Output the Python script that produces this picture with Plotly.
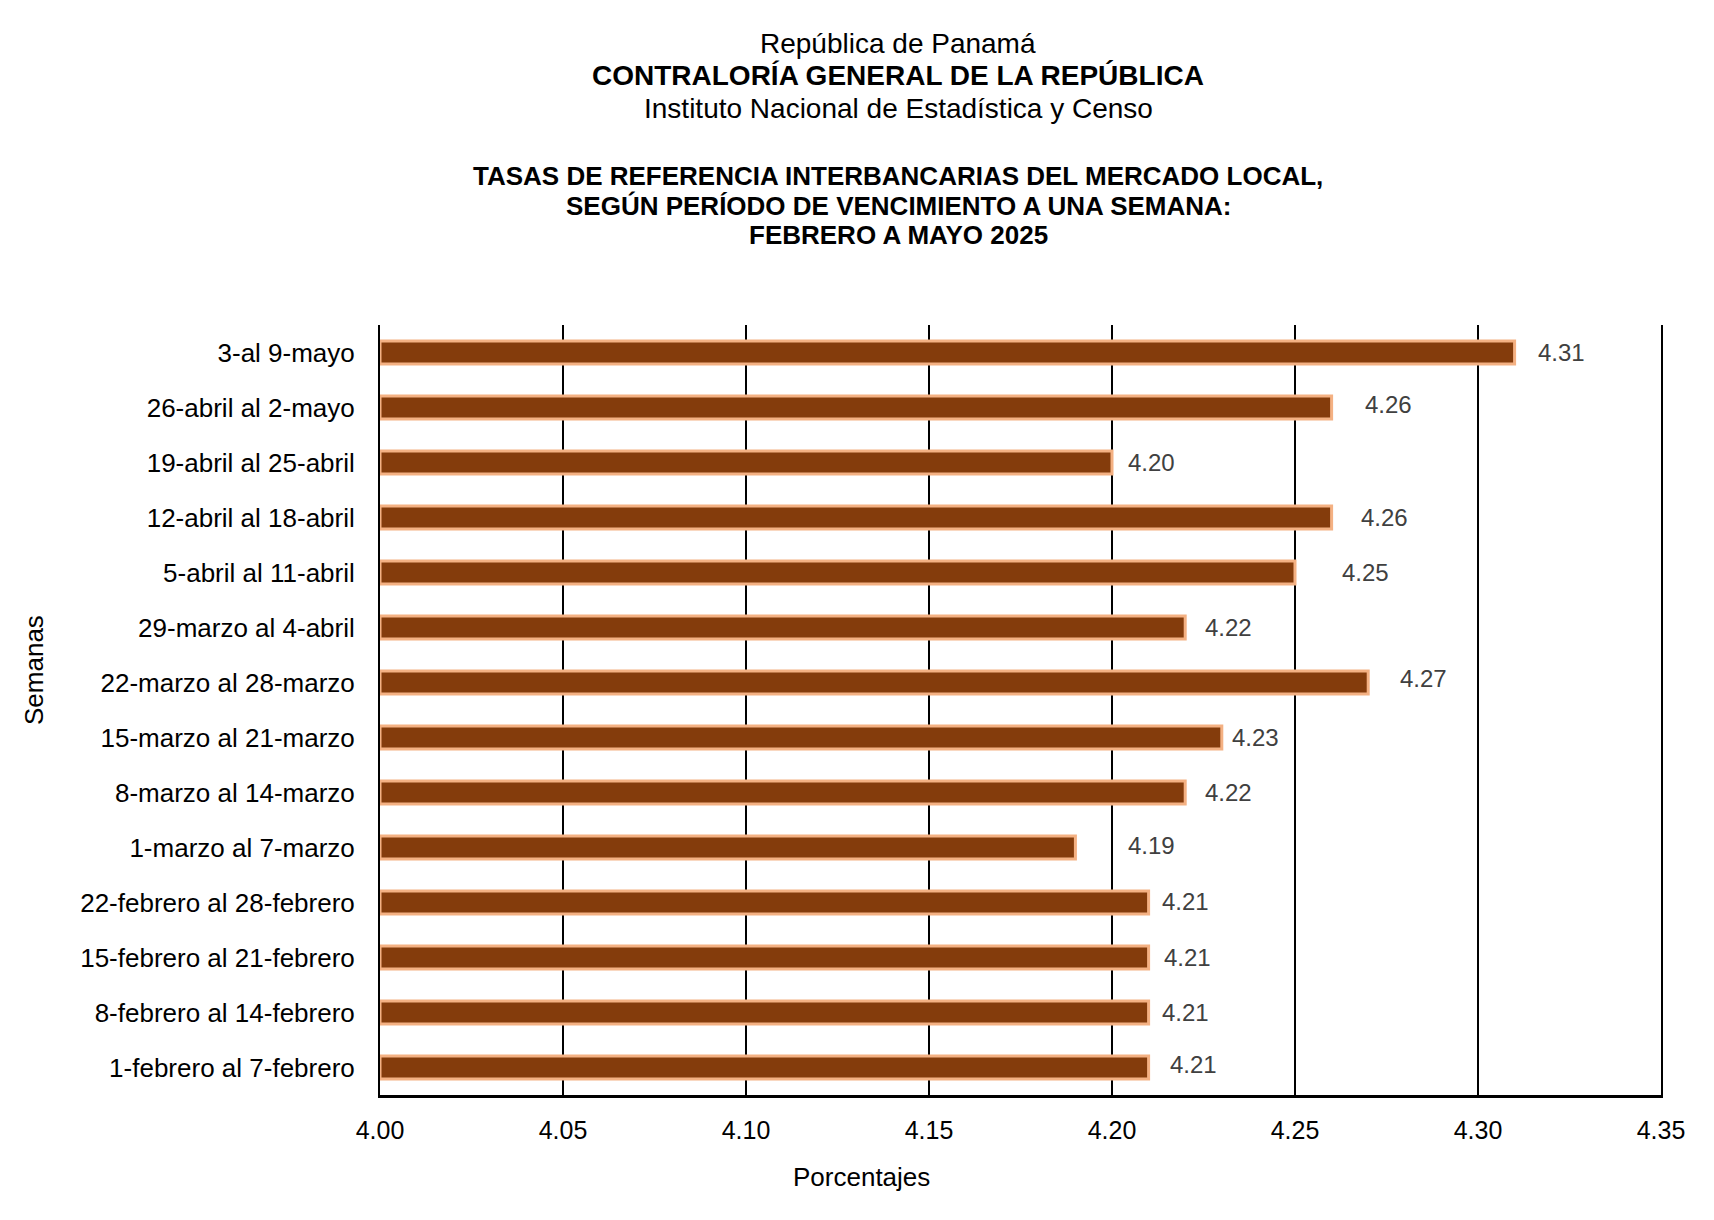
import plotly.graph_objects as go

semanas = [
    "1-febrero al 7-febrero",
    "8-febrero al 14-febrero",
    "15-febrero al 21-febrero",
    "22-febrero al 28-febrero",
    "1-marzo al 7-marzo",
    "8-marzo al 14-marzo",
    "15-marzo al 21-marzo",
    "22-marzo al 28-marzo",
    "29-marzo al 4-abril",
    "5-abril al 11-abril",
    "12-abril al 18-abril",
    "19-abril al 25-abril",
    "26-abril al 2-mayo",
    "3-al 9-mayo",
]
tasas = [4.21, 4.21, 4.21, 4.21, 4.19, 4.22, 4.23, 4.27, 4.22, 4.25, 4.26, 4.20, 4.26, 4.31]
x_ticks = [4.00, 4.05, 4.10, 4.15, 4.20, 4.25, 4.30, 4.35]

# label nudges (pixels), layout only
label_dx = [19, 11, 13, 11, 51, 18, 8, 30, 18, 45, 27, 14, 31, 21]
label_dy = [3, 0, 0, 1, 2, 0, 0, 4, 0, 0, 0, 0, 3, 0]

FONT = "Liberation Sans, Arial, sans-serif"
W, H = 1714, 1220
ML, MR, MT, MB = 372, 61, 317, 133
PW, PH = W - ML - MR, H - MT - MB

def px_x(x):
    return (x - ML) / PW

def px_y(y):
    return 1 - (y - MT) / PH

fig = go.Figure()
fig.add_trace(go.Bar(
    y=semanas,
    x=[t - 4.0 for t in tasas],
    base=4.0,
    orientation="h",
    width=0.42,
    marker=dict(color="#843C0C", line=dict(color="#F4B183", width=3)),
    hoverinfo="skip",
))

for s, t, dx, dy in zip(semanas, tasas, label_dx, label_dy):
    fig.add_annotation(
        x=t, y=s, xref="x", yref="y", text=f"{t:.2f}", showarrow=False,
        xanchor="left", yanchor="middle", xshift=dx, yshift=dy,
        font=dict(family=FONT, size=24, color="#404040"),
    )

fig.update_layout(
    width=W, height=H,
    paper_bgcolor="white", plot_bgcolor="white",
    margin=dict(l=ML, r=MR, t=MT, b=MB),
    showlegend=False,
    font=dict(family=FONT, color="black"),
)

fig.update_xaxes(
    range=[4.0, 4.35],
    tickvals=x_ticks,
    ticktext=[f"{v:.2f}" for v in x_ticks],
    tickfont=dict(family=FONT, size=25, color="black"),
    showgrid=True, gridcolor="black", gridwidth=2,
    zeroline=False,
    showline=True, linecolor="black", linewidth=3,
    ticks="", ticklabelstandoff=11,
    automargin=False,
)
fig.update_yaxes(
    type="category",
    categoryorder="array", categoryarray=semanas,
    range=[-0.5, 13.5],
    tickfont=dict(family=FONT, size=26, color="black"),
    showgrid=False, zeroline=False,
    showline=True, mirror=True, linecolor="black", linewidth=2,
    ticks="", ticklabelstandoff=18,
    automargin=False,
)

fig.add_annotation(text="Semanas", textangle=-90, x=px_x(26), y=px_y(662),
                   xref="paper", yref="paper", showarrow=False,
                   xanchor="center", yanchor="middle",
                   font=dict(family=FONT, size=26, color="black"))
fig.add_annotation(text="Porcentajes", x=px_x(853), y=px_y(1169),
                   xref="paper", yref="paper", showarrow=False,
                   xanchor="center", yanchor="middle",
                   font=dict(family=FONT, size=26, color="black"))

titles = [
    ("República de Panamá", 35, False, 28),
    ("CONTRALORÍA GENERAL DE LA REPÚBLICA", 67, True, 28),
    ("Instituto Nacional de Estadística y Censo", 101, False, 28),
    ("TASAS DE REFERENCIA INTERBANCARIAS DEL MERCADO LOCAL,", 168, True, 26),
    ("SEGÚN PERÍODO DE VENCIMIENTO A UNA SEMANA:", 198, True, 26),
    ("FEBRERO A MAYO 2025", 227, True, 26),
]
for txt, ypx, bold, size in titles:
    fig.add_annotation(
        text=f"<b>{txt}</b>" if bold else txt,
        x=px_x(890), y=px_y(ypx),
        xref="paper", yref="paper", showarrow=False,
        xanchor="center", yanchor="middle",
        font=dict(family=FONT, size=size, color="black"),
    )

fig.write_html("out.html")
